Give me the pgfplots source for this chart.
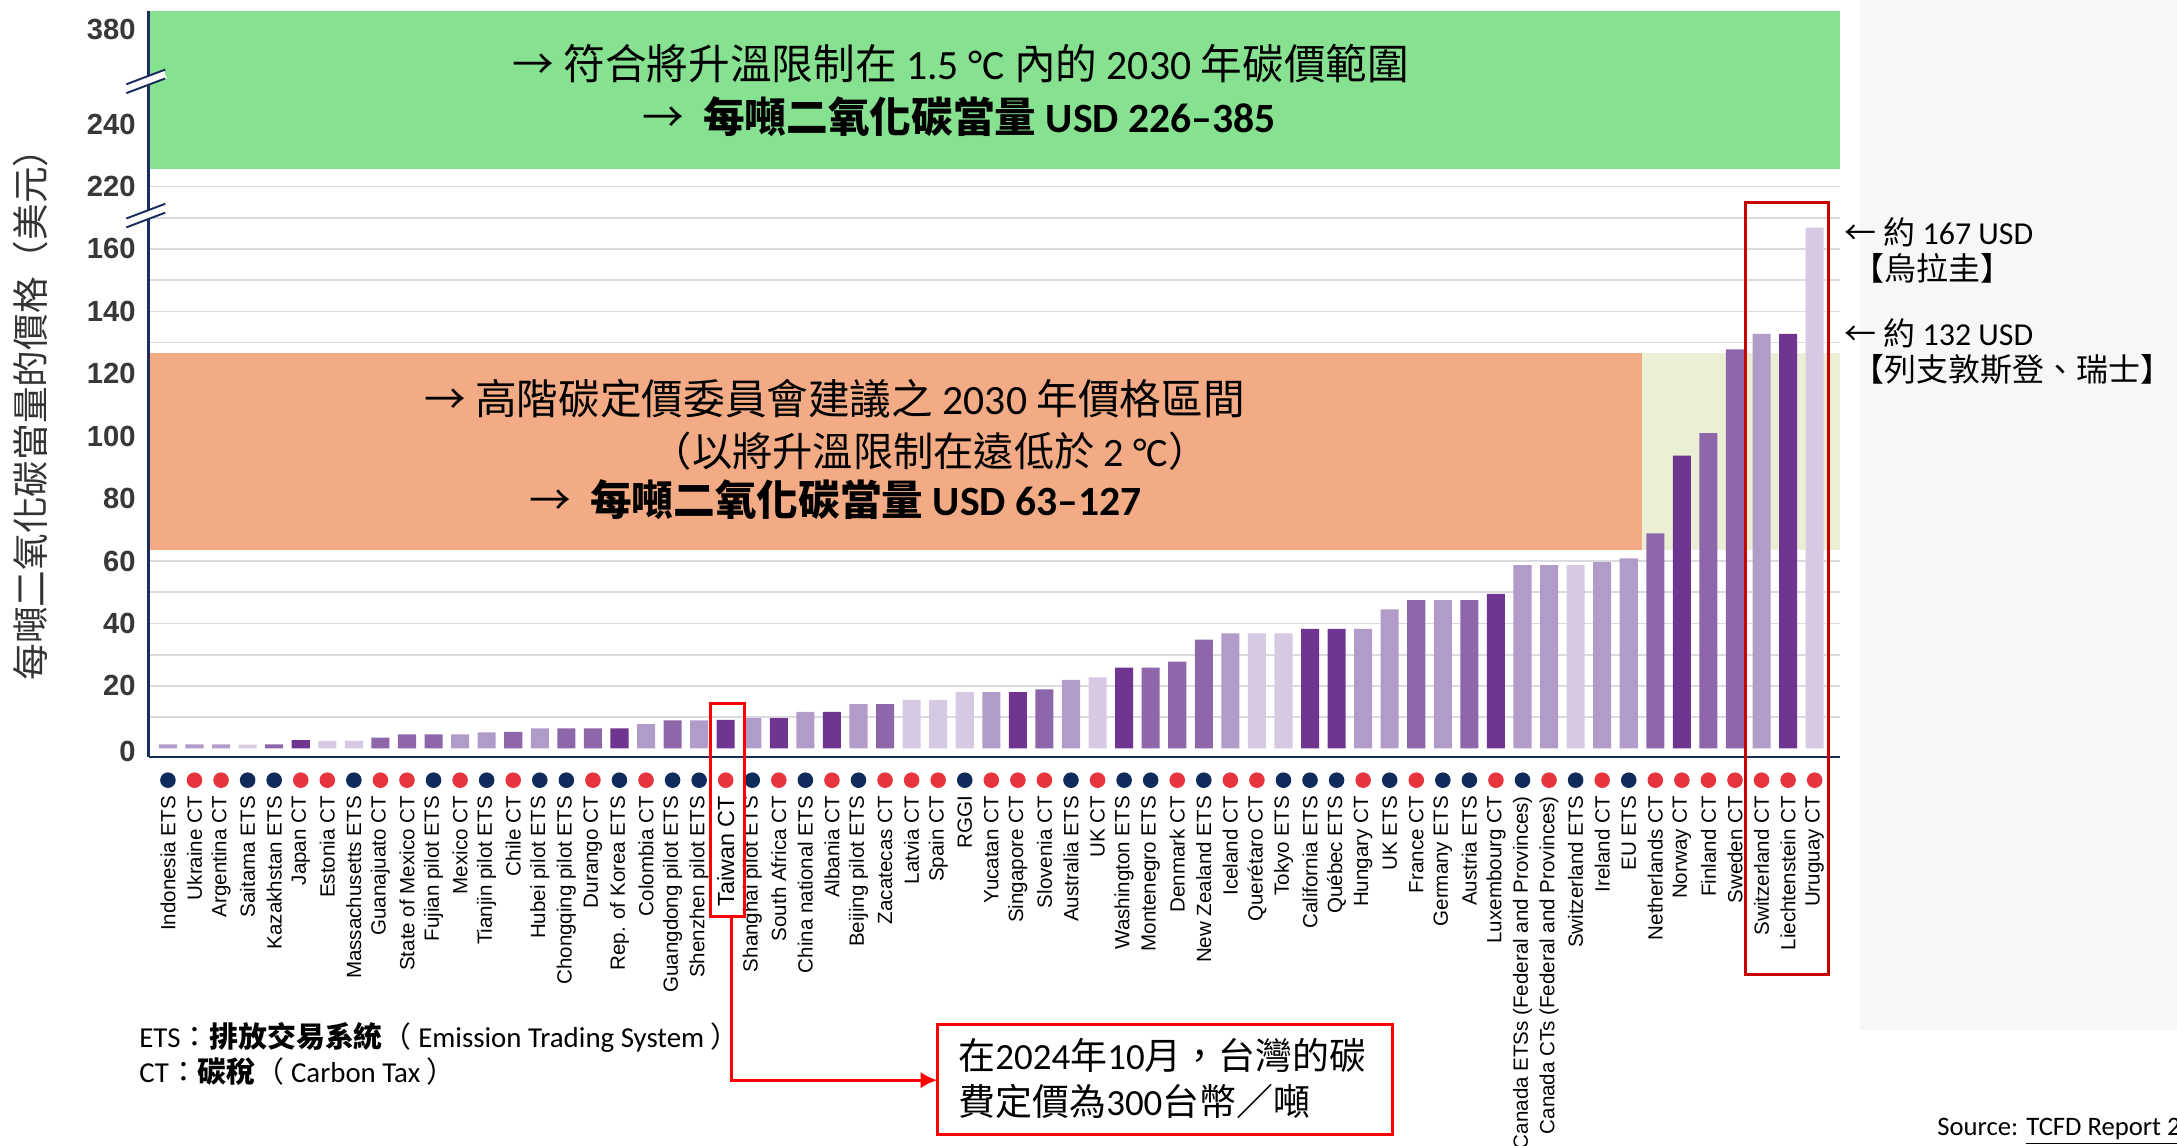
\documentclass[border=0pt]{standalone}
\usepackage{fontspec}
\setmainfont{Carlito}
\newfontfamily\cjk{Noto Sans CJK TC}[Script=CJK, Language=Chinese Traditional]
\newfontfamily\arial{Liberation Sans}
\usepackage{pgfplots}
\pgfplotsset{compat=1.18}
\usetikzlibrary{arrows.meta}
\definecolor{cdark}{HTML}{6F3590}
\definecolor{cmed}{HTML}{8E67AA}
\definecolor{clight}{HTML}{B19BC9}
\definecolor{cvlight}{HTML}{D5CAE2}
\definecolor{gbox}{HTML}{86E191}
\definecolor{obox}{HTML}{F2AB84}
\definecolor{pbox}{HTML}{EBEFD6}
\definecolor{navy}{HTML}{1A2D5E}
\definecolor{ctred}{HTML}{E8343C}
\definecolor{etsblue}{HTML}{0E2B5C}
\definecolor{gridc}{HTML}{DADAE0}
\definecolor{bggray}{HTML}{F7F7F7}
\definecolor{boxred}{HTML}{C80000}
\begin{document}
\begin{tikzpicture}
\begin{scope}[x=0.5pt,y=-0.5pt,shift={(-53.5pt,272.5pt)}]
\fill[bggray] (1340,0) rectangle (1568,742);
\end{scope}
\begin{axis}[
  at={(0,0)}, anchor=south west,
  width=609pt, height=268.5pt, scale only axis,
  xmin=-0.73, xmax=62.94, ymin=-2.67, ymax=236.2,
  axis lines*=left,
  axis line style={navy, line width=0.8pt, -},
  clip=false,
  major tick length=0pt, minor tick length=0pt,
  xtick={0,1,...,62},
  xticklabels={Indonesia ETS,Ukraine CT,Argentina CT,Saitama ETS,Kazakhstan ETS,Japan CT,Estonia CT,Massachusetts ETS,Guanajuato CT,State of Mexico CT,Fujian pilot ETS,Mexico CT,Tianjin pilot ETS,Chile CT,Hubei pilot ETS,Chongqing pilot ETS,Durango CT,Rep. of Korea ETS,Colombia CT,Guangdong pilot ETS,Shenzhen pilot ETS,{\fontsize{8.4}{9}\selectfont Taiwan CT},Shanghai pilot ETS,South Africa CT,China national ETS,Albania CT,Beijing pilot ETS,Zacatecas CT,Latvia CT,Spain CT,RGGI,Yucatan CT,Singapore CT,Slovenia CT,Australia ETS,UK CT,Washington ETS,Montenegro ETS,Denmark CT,New Zealand ETS,Iceland CT,Querétaro CT,Tokyo ETS,California ETS,Québec ETS,Hungary CT,UK ETS,France CT,Germany ETS,Austria ETS,Luxembourg CT,Canada ETSs (Federal and Provinces),Canada CTs (Federal and Provinces),Switzerland ETS,Ireland CT,EU ETS,Netherlands CT,Norway CT,Finland CT,Sweden CT,Switzerland CT,Liechtenstein CT,Uruguay CT},
  xticklabel style={rotate=90, anchor=east, inner sep=0pt, font=\arial\fontsize{7.4}{8}\selectfont, text=black},
  xticklabel shift=14pt,
  ytick={-1,20,40,60,80,100,120,140,160,180,200,230.3},
  yticklabels={0,20,40,60,80,100,120,140,160,220,240,380},
  /pgf/number format/assume math mode=true,
  yticklabel style={anchor=east, inner sep=0pt, xshift=-4.5pt, font=\arial\bfseries\fontsize{10.5}{12}\selectfont, text=black!78},
  minor ytick={10,20,...,180},
  yminorgrids=true, ymajorgrids=false, xmajorgrids=false,
  minor grid style={gridc, line width=0.6pt},
]
% range boxes
\addplot[fill=pbox, draw=none] coordinates {(55.5,63.6) (62.94,63.6) (62.94,126.7) (55.5,126.7)} -- cycle;
\addplot[fill=gbox, draw=none] coordinates {(-0.73,185.5) (62.94,185.5) (62.94,236.2) (-0.73,236.2)} -- cycle;
\addplot[fill=obox, draw=none] coordinates {(-0.73,63.6) (55.5,63.6) (55.5,126.7) (-0.73,126.7)} -- cycle;
% bars
\addplot[ybar, bar width=0.68, bar shift=0pt, fill=clight, draw=none] coordinates {(0,1.3) (1,1.3) (2,1.3) (11,4.5) (12,5.1) (14,6.4) (18,7.8) (20,9.0) (22,9.7) (24,11.7) (26,14.2) (31,18.0) (34,21.9) (40,36.8) (45,38.3) (46,44.5) (48,47.5) (51,58.7) (52,58.7) (54,59.7) (55,60.9) (60,132.8)};
\addplot[ybar, bar width=0.68, bar shift=0pt, fill=cvlight, draw=none] coordinates {(3,1.2) (6,2.4) (7,2.4) (28,15.5) (29,15.5) (30,18.0) (35,22.7) (41,36.8) (42,36.8) (53,58.7) (62,166.8)};
\addplot[ybar, bar width=0.68, bar shift=0pt, fill=cmed, draw=none] coordinates {(4,1.3) (8,3.4) (9,4.5) (10,4.5) (13,5.3) (15,6.4) (16,6.4) (19,9.0) (27,14.2) (33,18.9) (37,25.9) (38,27.8) (39,34.8) (47,47.5) (49,47.5) (56,68.9) (58,101.0) (59,127.8)};
\addplot[ybar, bar width=0.68, bar shift=0pt, fill=cdark, draw=none] coordinates {(5,2.6) (17,6.4) (21,9.1) (23,9.7) (25,11.7) (32,18.0) (36,25.9) (43,38.3) (44,38.3) (50,49.5) (57,93.8) (61,132.8)};
% type dots
\addplot[only marks, mark=*, mark size=2.6pt, color=etsblue] coordinates {(0,-10.2) (3,-10.2) (4,-10.2) (7,-10.2) (10,-10.2) (12,-10.2) (14,-10.2) (15,-10.2) (17,-10.2) (19,-10.2) (20,-10.2) (22,-10.2) (24,-10.2) (26,-10.2) (30,-10.2) (34,-10.2) (36,-10.2) (37,-10.2) (39,-10.2) (42,-10.2) (43,-10.2) (44,-10.2) (46,-10.2) (48,-10.2) (49,-10.2) (51,-10.2) (53,-10.2) (55,-10.2)};
\addplot[only marks, mark=*, mark size=2.6pt, color=ctred] coordinates {(1,-10.2) (2,-10.2) (5,-10.2) (6,-10.2) (8,-10.2) (9,-10.2) (11,-10.2) (13,-10.2) (16,-10.2) (18,-10.2) (21,-10.2) (23,-10.2) (25,-10.2) (27,-10.2) (28,-10.2) (29,-10.2) (31,-10.2) (32,-10.2) (33,-10.2) (35,-10.2) (38,-10.2) (40,-10.2) (41,-10.2) (45,-10.2) (47,-10.2) (50,-10.2) (52,-10.2) (54,-10.2) (56,-10.2) (57,-10.2) (58,-10.2) (59,-10.2) (60,-10.2) (61,-10.2) (62,-10.2)};
% redraw y axis line and break marks
\draw[navy, line width=0.8pt] (axis cs:-0.73,-2.67) -- (axis cs:-0.73,236.2);
\draw[white, line width=3.2pt] ([xshift=-8pt,yshift=-3pt]axis cs:-0.73,171) -- ([xshift=6pt,yshift=2.3pt]axis cs:-0.73,171);
\draw[navy, line width=0.7pt] ([xshift=-8pt,yshift=-4.6pt]axis cs:-0.73,171) -- ([xshift=6pt,yshift=0.7pt]axis cs:-0.73,171);
\draw[navy, line width=0.7pt] ([xshift=-8pt,yshift=-1.4pt]axis cs:-0.73,171) -- ([xshift=6pt,yshift=3.9pt]axis cs:-0.73,171);
\draw[white, line width=3.2pt] ([xshift=-8pt,yshift=-3pt]axis cs:-0.73,214) -- ([xshift=6pt,yshift=2.3pt]axis cs:-0.73,214);
\draw[navy, line width=0.7pt] ([xshift=-8pt,yshift=-4.6pt]axis cs:-0.73,214) -- ([xshift=6pt,yshift=0.7pt]axis cs:-0.73,214);
\draw[navy, line width=0.7pt] ([xshift=-8pt,yshift=-1.4pt]axis cs:-0.73,214) -- ([xshift=6pt,yshift=3.9pt]axis cs:-0.73,214);
\end{axis}
\begin{scope}[x=0.5pt,y=-0.5pt,shift={(-53.5pt,272.5pt)}]
% y axis title
\node[rotate=90, inner sep=0pt, font=\cjk\fontsize{13.2}{15}\selectfont, text=black!80] at (22,292) {每噸二氧化碳當量的價格（美元）};
% green box text
\node[inner sep=0pt, font=\fontsize{15}{18}\selectfont] at (692,46) {{\cjk →} {\cjk 符合將升溫限制在} 1.5 °C {\cjk 內的} 2030 {\cjk 年碳價範圍}};
\node[inner sep=0pt, font=\fontsize{15}{18}\selectfont\bfseries] at (691,84) {{\cjk\mdseries →}\ \ {\cjk 每噸二氧化碳當量} USD 226–385};
% orange box text
\node[inner sep=0pt, font=\fontsize{15}{18}\selectfont] at (601,287) {{\cjk →} {\cjk 高階碳定價委員會建議之} 2030 {\cjk 年價格區間}};
\node[inner sep=0pt, font=\fontsize{14.5}{18}\selectfont] at (670,325) {{\cjk （以將升溫限制在遠低於} 2 °C{\cjk ）}};
\node[inner sep=0pt, font=\fontsize{15}{18}\selectfont\bfseries] at (602,360) {{\cjk\mdseries →}\ \ {\cjk 每噸二氧化碳當量} USD 63–127};
% right annotations
\node[anchor=west, inner sep=0pt, font=\fontsize{11.5}{14}\selectfont] at (1328,167) {{\cjk ←} {\cjk 約} 167 USD};
\node[anchor=west, inner sep=0pt, font=\cjk\fontsize{11.5}{14}\selectfont] at (1334,193) {【烏拉圭】};
\node[anchor=west, inner sep=0pt, font=\fontsize{11.5}{14}\selectfont] at (1328,240) {{\cjk ←} {\cjk 約} 132 USD};
\node[anchor=west, inner sep=0pt, font=\cjk\fontsize{11.5}{14}\selectfont] at (1334,266) {【列支敦斯登、瑞士】};
% red boxes
\draw[boxred, line width=1.2pt] (1257,146) rectangle (1317,702);
\draw[red, line width=1.1pt] (512,507) rectangle (536,660);
\draw[red, line width=1.1pt, -{Latex[length=6pt,width=6pt]}] (527,660) -- (527,778) -- (675,778);
\draw[red, line width=1.1pt] (675,738) rectangle (1003,817);
\node[anchor=west, inner sep=0pt, font=\fontsize{13.3}{16}\selectfont] at (690,760) {{\cjk 在}2024{\cjk 年}10{\cjk 月，台灣的碳}};
\node[anchor=west, inner sep=0pt, font=\fontsize{13.3}{16}\selectfont] at (690,793) {{\cjk 費定價為}300{\cjk 台幣／噸}};
% legend text
\node[anchor=west, inner sep=0pt, font=\fontsize{10.4}{12}\selectfont] at (100,747) {ETS{\cjk ：\textbf{排放交易系統}（} Emission Trading System {\cjk ）}};
\node[anchor=west, inner sep=0pt, font=\fontsize{10.4}{12}\selectfont] at (100,772) {CT{\cjk ：\textbf{碳稅}（} Carbon Tax {\cjk ）}};
% source
\node[anchor=west, inner sep=0pt, font=\fontsize{9.6}{12}\selectfont] at (1395,815) {Source: \underline{TCFD Report 2024}};
\end{scope}
\pgfresetboundingbox
\path[use as bounding box] (-53.5pt,-140pt) rectangle (730.5pt,272.5pt);
\end{tikzpicture}
\end{document}
